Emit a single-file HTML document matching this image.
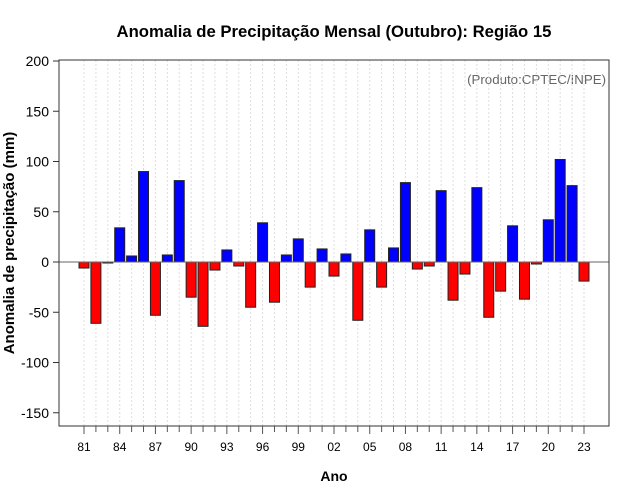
<!DOCTYPE html>
<html><head><meta charset="utf-8"><style>
html,body{margin:0;padding:0;background:#fff;}
svg{display:block;font-family:"Liberation Sans",sans-serif;}
</style></head><body>
<svg id="chart" width="640" height="500" viewBox="0 0 640 500" xmlns="http://www.w3.org/2000/svg">
<rect width="640" height="500" fill="#fff"/>
<text x="334" y="37" text-anchor="middle" font-size="16.7" font-weight="bold">Anomalia de Precipitação Mensal (Outubro): Região 15</text>
<text x="606" y="84" text-anchor="end" font-size="13.3" fill="#666">(Produto:CPTEC/INPE)</text>
<text x="334" y="481" text-anchor="middle" font-size="14" font-weight="bold">Ano</text>
<text transform="translate(14,243) rotate(-90)" text-anchor="middle" font-size="15" font-weight="bold">Anomalia de precipitação (mm)</text>
<g id="grid"></g><g id="bars"></g><g id="axes"></g>
</svg>
<script>
const years = [1981,1982,1983,1984,1985,1986,1987,1988,1989,1990,1991,1992,1993,1994,1995,1996,1997,1998,1999,2000,2001,2002,2003,2004,2005,2006,2007,2008,2009,2010,2011,2012,2013,2014,2015,2016,2017,2018,2019,2020,2021,2022,2023];
const anomalies = [-6,-61,-1,34,6,90,-53,7,81,-35,-64,-8,12,-4,-45,39,-40,7,23,-25,13,-14,8,-58,32,-25,14,79,-7,-4,71,-38,-12,74,-55,-29,36,-37,-2,42,102,76,-19];
const yTicks = [-150,-100,-50,0,50,100,150,200];
const xLabelYears = [1981,1984,1987,1990,1993,1996,1999,2002,2005,2008,2011,2014,2017,2020,2023];

const NS="http://www.w3.org/2000/svg";
const L=59,R=609,T=60,B=426;
const x = yr => 84 + (yr-1981)*(500/42);
const y = v => 262 - v*1.005;
function mk(tag,attrs,parent,txt){const e=document.createElementNS(NS,tag);for(const k in attrs)e.setAttribute(k,attrs[k]);if(txt!==undefined)e.textContent=txt;parent.appendChild(e);return e;}
const grid=document.getElementById('grid'),bars=document.getElementById('bars'),axes=document.getElementById('axes');

years.forEach(yr=>{
  const g=mk('line',{x1:x(yr),x2:x(yr),y1:T,y2:B,stroke:'#ddd','stroke-dasharray':'2,2','stroke-width':1},grid);
  
  
});

const bw=10;
years.forEach((yr,i)=>{
  const v=anomalies[i];
  const r=mk('rect',{x:x(yr)-bw/2,y:Math.min(y(v),y(0)),width:bw,height:Math.max(Math.abs(y(v)-y(0)),0.5),fill:v>=0?'#0000ff':'#ff0000',stroke:'#222','stroke-width':1},bars);
  
  
});
const z=mk('line',{x1:L,x2:R,y1:y(0),y2:y(0),stroke:'#666','stroke-width':1},axes);



const frame=mk('rect',{x:L,y:T,width:R-L,height:B-T,fill:'none',stroke:'#333','stroke-width':1},axes);



yTicks.forEach(v=>{
  const t=mk('line',{x1:L-6,x2:L,y1:y(v),y2:y(v),stroke:'#333'},axes);
  
  
  const l=mk('text',{x:L-10,y:y(v)+5,'text-anchor':'end','font-size':14},axes,String(v));
  
  
});
years.forEach(yr=>{
  const major=xLabelYears.includes(yr);
  const t=mk('line',{x1:x(yr),x2:x(yr),y1:B,y2:B+(major?8:6),stroke:'#555'},axes);
  
  
});
xLabelYears.forEach(yr=>{
  const l=mk('text',{x:x(yr),y:451,'text-anchor':'middle','font-size':12},axes,String(yr%100).padStart(2,'0'));
  
  
});
</script>
</body></html>
